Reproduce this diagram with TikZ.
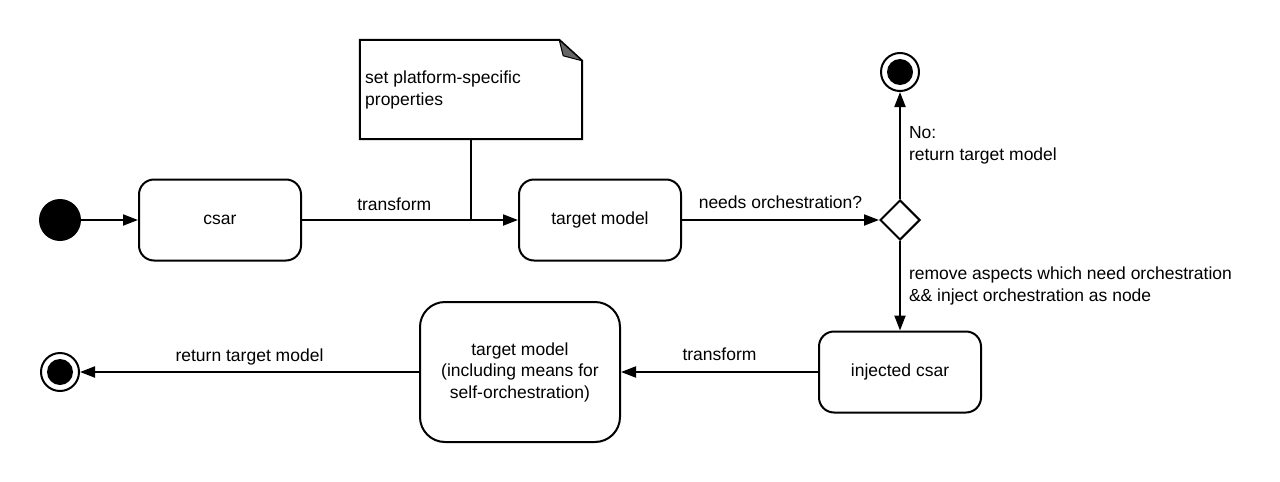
\documentclass[tikz,border=0pt]{standalone}
\usepackage{fontspec}
\setmainfont{Liberation Sans}
\usetikzlibrary{shapes.geometric,arrows.meta}
\begin{document}
\begin{tikzpicture}[x=1pt,y=-1pt,
  every node/.style={font=\fontsize{17.5}{21.5}\selectfont},
  line/.style={line width=2pt},
  arr/.style={line width=2pt,-{Triangle[length=15pt,width=11pt]}},
  state/.style={draw,line width=2pt,rounded corners=15pt,minimum width=162pt,minimum height=81pt,inner sep=0pt,align=center},
  bigstate/.style={state,rounded corners=25pt,minimum width=200pt,minimum height=140pt},
  startdot/.style={circle,fill=black,minimum size=42pt,inner sep=0pt},
  endring/.style={circle,draw,line width=2pt,fill=white,minimum size=38pt,inner sep=0pt},
  enddot/.style={circle,fill=black,minimum size=26pt,inner sep=0pt},
  choice/.style={diamond,draw,line width=2pt,fill=white,minimum width=40pt,minimum height=40pt,inner sep=0pt,aspect=1},
  lbl/.style={inner sep=0pt},
]
\useasboundingbox (0,0) rectangle (1280,482);

% nodes
\node[startdot] (start) at (60,220) {};
\node[state] (csar) at (220,220) {csar};
\node[state] (tm) at (600,220) {target model};
\node[choice] (dia) at (900,220) {};
\node[endring] (end1) at (900,72) {};
\node[enddot] (end1dot) at (end1.center) {};
\node[state] (inj) at (900,372) {injected csar};
\node[bigstate] (big) at (520,372) {target model\\(including means for\\self-orchestration)};
\node[endring] (end2) at (60,372) {};
\node[enddot] (end2dot) at (end2.center) {};

% note
\node[minimum width=222pt,minimum height=99pt,inner sep=0pt] (note) at (471,89.5) {};
\draw[line,line join=miter] (note.north west) -- ([xshift=-23pt]note.north east)
  -- ([yshift=-21pt]note.north east) -- (note.south east) -- (note.south west) -- cycle;
\filldraw[fill=black!60,line width=1pt,line join=round] ([xshift=-23pt]note.north east)
  -- ([xshift=-19pt,yshift=-16pt]note.north east) -- ([yshift=-21pt]note.north east) -- cycle;
\node[lbl,anchor=north west,align=left] (notetext) at (365,71) {set platform-specific\\properties};

% connectors
\draw[arr] (start) -- (csar);
\draw[arr] (csar) -- (tm) node[lbl,pos=0.427,anchor=base,yshift=10pt] (l1) {transform};
\draw[line] (note.south) -- (note.south |- csar.east);
\draw[arr] (tm) -- (dia.west) node[lbl,midway,anchor=base,yshift=12pt] (l2) {needs orchestration?};
\draw[arr] (dia.north) -- (end1.south) node[lbl,midway,anchor=west,xshift=8pt,align=left] (l3) {No:\\return target model};
\draw[arr] (dia.south) -- (inj.north) node[lbl,midway,anchor=west,xshift=8pt,align=left] (l4) {remove aspects which need orchestration\\\&\& inject orchestration as node};
\draw[arr] (inj) -- (big) node[lbl,midway,anchor=base,yshift=12pt] (l5) {transform};
\draw[arr] (big) -- (end2) node[lbl,midway,anchor=base,yshift=11pt] (l6) {return target model};
\end{tikzpicture}
\end{document}
